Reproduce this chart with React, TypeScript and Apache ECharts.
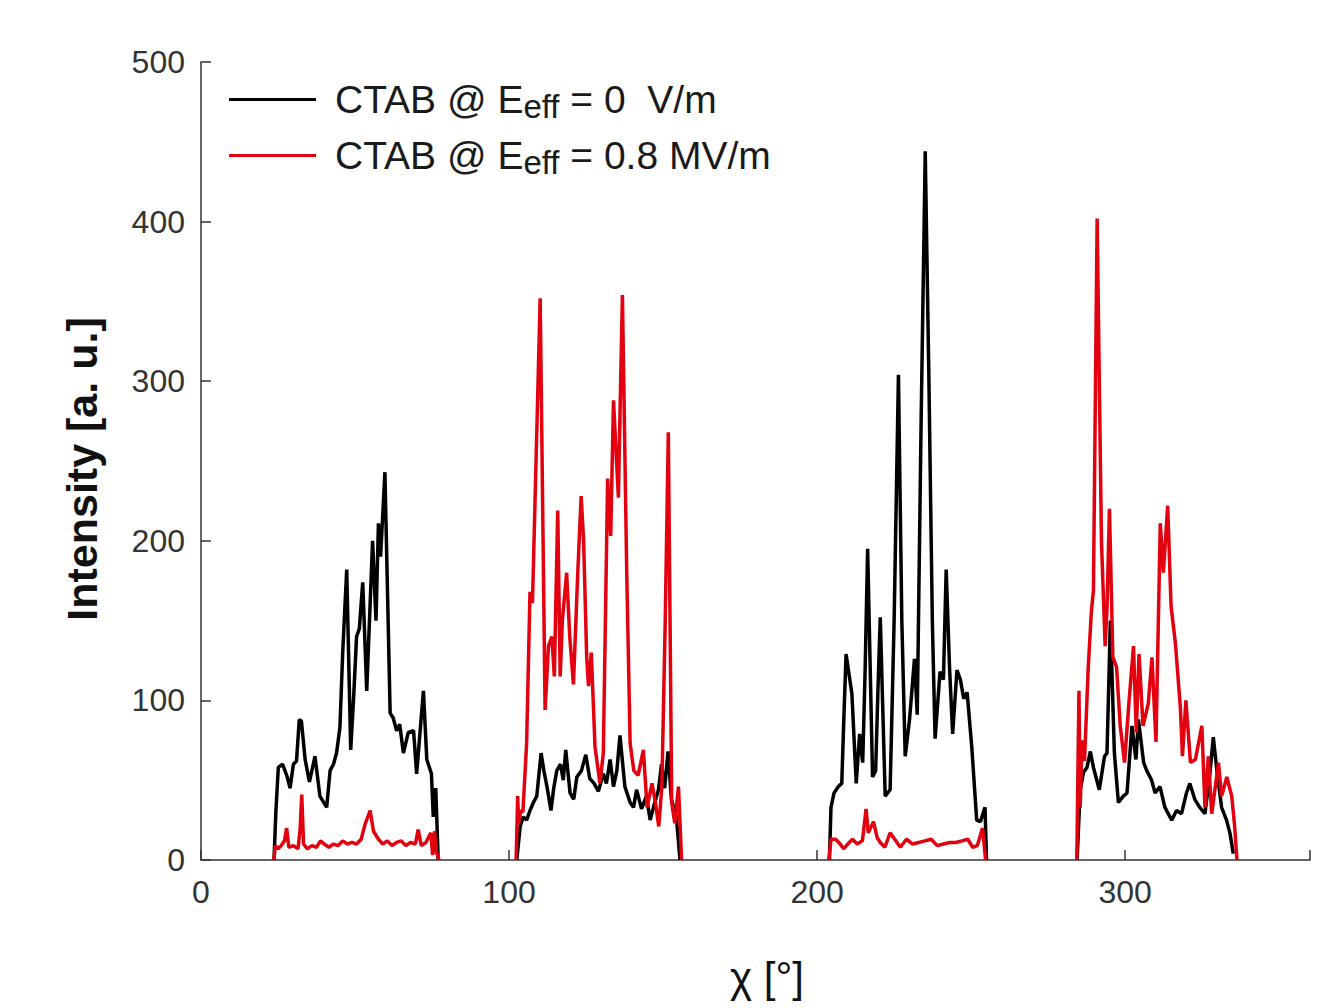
import React, { useEffect, useRef } from 'react';
import * as echarts from 'echarts';

const seriesNames = ['CTAB @ Eeff = 0  V/m', 'CTAB @ Eeff = 0.8 MV/m'];
const legendLabels = ['{m|CTAB @ E}{sub|eff}{m| = 0  V/m}', '{m|CTAB @ E}{sub|eff}{m| = 0.8 MV/m}'];
const xTickValues = [0, 100, 200, 300];
const yTickValues = [0, 100, 200, 300, 400, 500];
const xAxisName = 'χ [°]';
const yAxisName = 'Intensity [a. u.]';

// Black: E_eff = 0 V/m, four angular groups
const black1 = [[23.7,0],[24.3,30],[25.1,58],[26.5,60],[28,52],[28.9,45],[30,60],[31,62],[31.9,88],[32.6,87],[33.8,63],[35.2,49],[37,65],[38.6,40],[40.8,33],[41.9,56],[43,60],[44,67],[45.1,83],[46,130],[47.3,182],[48.6,69],[49.5,100],[50.5,140],[51.4,145],[52.5,174],[53.8,106],[55.7,200],[56.8,150],[57.6,211],[58.3,190],[59.7,243],[61.4,92],[62.4,89],[63.5,81],[64.5,85],[65.7,67],[67.3,80],[69,81],[70,54],[72.2,106],[73.3,63],[74.8,54],[75.4,27],[76.2,45],[77,0]];
const black2 = [[102.5,0],[103.6,21],[104.6,27],[105.7,25],[106.8,31],[107.9,36],[109,40],[110.4,67],[111.3,56],[112.4,45],[113.6,31],[114.5,45],[115.5,56],[116.7,60],[117.6,50],[118.4,69],[119.8,42],[121,38],[122,52],[123.5,56],[124.9,66],[126.2,51],[127.6,48],[129,43],[130.6,54],[131.6,48],[132.8,63],[133.9,46],[135,56],[136,78],[137.6,46],[139.3,36],[140.4,33],[141.4,44],[143,32],[144.6,40],[145.8,25],[147.3,36],[148.5,44],[149.5,60],[150.5,45],[151.6,68],[152.7,38],[154.3,27],[155.5,0]];
const black3 = [[204,0],[204.5,33],[205.5,42],[206.9,46],[208,48],[208.7,90],[209.4,129],[211.3,104],[212.7,48],[213.8,79],[214.8,61],[215.6,120],[216.4,195],[218,52],[219,56],[219.8,110],[220.5,152],[222.1,40],[223.7,44],[225,150],[226.4,304],[227.5,150],[228.6,65],[230,88],[231.6,126],[232.5,91],[233.8,280],[235.1,444],[236.3,300],[237.4,150],[238.3,76],[239.9,118],[241,113],[241.9,182],[243,120],[244,79],[245.4,119],[246.5,113],[247.6,101],[248.7,105],[250.2,71],[251.8,25],[253,24],[254.5,33],[255,0]];
const black4 = [[284.4,0],[285.4,44],[286.5,55],[287.6,58],[288.7,68],[289.7,58],[291.6,44],[293.3,65],[294.1,67],[295.2,150],[296.5,67],[297.8,36],[299.4,40],[300.6,42],[302.2,84],[303.5,63],[304.3,88],[306,61],[307,56],[308.6,50],[309.7,42],[311.3,46],[312.9,33],[315.1,25],[316.7,31],[318.3,29],[319.9,42],[321,48],[322.6,38],[324.2,33],[325.9,29],[327.5,54],[328.6,77],[329.9,54],[331.3,33],[332.9,25],[334,17],[335.1,4]];

// Red: E_eff = 0.8 MV/m
const red1 = [[23.6,0],[24.2,9],[25,7],[26,9],[27.1,12],[27.8,20],[28.5,8],[30,9],[31.5,7],[32.2,20],[32.7,41],[33.3,10],[34.5,7],[36,9],[37.5,8],[38.8,12],[40,10],[41.5,8],[43,10],[44.5,9],[46,12],[47.5,10],[49,11],[50.5,10],[52,13],[53.2,22],[54.9,31],[56,18],[57.6,13],[59,10],[60.5,12],[62,9],[63.5,11],[65,12],[66.5,9],[68,11],[69.6,10],[70.5,19],[71.5,9],[73,11],[74.6,17],[75.2,3],[75.8,18],[76.4,5],[77.3,0]];
const red2 = [[102.3,0],[102.8,40],[103.1,23],[103.8,31],[104.5,30],[105.7,73],[106.8,168],[107.6,161],[108.5,230],[110.1,352],[111.7,94],[112.8,134],[113.9,140],[114.7,115],[115.8,219],[116.6,115],[117.3,150],[118.7,180],[119.7,140],[120.9,110],[122.3,180],[123.4,228],[124.2,200],[125.2,127],[125.8,109],[126.7,130],[127.9,71],[129.5,48],[130.6,67],[132,239],[133,203],[133.9,288],[135.5,227],[136.1,288],[136.8,354],[138.2,180],[139.3,73],[140.5,56],[141.9,53],[143.6,69],[144.8,33],[146.4,48],[147.5,36],[148.6,21],[149.6,46],[150.7,150],[151.7,268],[152.8,36],[153.8,23],[155,46],[156,0]];
const red3 = [[203.8,0],[204.5,13],[206,13],[207.5,10],[208.6,7],[210,10],[211.5,13],[213,10],[214.7,12],[215.9,32],[216.6,17],[218.3,24],[219.5,14],[220.5,11],[222,8],[223.7,17],[225.2,13],[227,8],[229,13],[231,10],[233,11],[235,12],[237,13],[239,9],[241,10],[243,11],[245,11],[247,12],[248.9,13],[250.5,8],[252,9],[253.7,20],[254.7,0]];
const red4 = [[284.3,0],[285,106],[285.4,33],[286,75],[286.8,62],[288,120],[289,155],[289.7,169],[290.9,402],[292.3,200],[293.5,134],[294.1,157],[294.9,220],[296,127],[297.2,121],[298.4,84],[299.8,61],[301.2,98],[302.7,134],[303.6,80],[304.5,129],[305.8,84],[307.5,98],[308.7,127],[310,74],[311.4,211],[312.4,180],[313.8,222],[314.9,159],[316.3,136],[317.9,96],[318.6,65],[319.7,100],[321.2,61],[322.8,63],[324.9,84],[325.9,33],[327,65],[328.1,29],[330.3,61],[331.3,40],[333,52],[334.6,40],[335.5,22],[336.3,0]];

function joinGroups(groups: number[][][]) {
  const out: (number | null)[][] = [];
  groups.forEach((g, i) => {
    if (i > 0) {
      const prev = groups[i - 1];
      out.push([(prev[prev.length - 1][0] + g[0][0]) / 2, null]);
    }
    g.forEach((p) => out.push(p));
  });
  return out;
}

const FONT = '"Liberation Sans", Arial, Helvetica, sans-serif';

export default function App() {
  const ref = useRef<HTMLDivElement>(null);
  useEffect(() => {
    if (!ref.current) return;
    const chart = echarts.init(ref.current, null, { renderer: 'svg' });
    chart.setOption({
      animation: false,
      backgroundColor: '#ffffff',
      grid: { left: 201, right: 24, top: 62, bottom: 148, containLabel: false },
      legend: {
        orient: 'vertical',
        left: 229,
        top: 80,
        padding: 0,
        icon: 'rect',
        itemWidth: 87,
        itemHeight: 3,
        itemGap: 13,
        data: seriesNames,
        formatter: (name: string) => legendLabels[seriesNames.indexOf(name)],
        textStyle: {
          fontFamily: FONT,
          color: '#1a1a1a',
          padding: [0, 0, 0, 14],
          rich: {
            m: { fontSize: 39, fontFamily: FONT, color: '#1a1a1a', verticalAlign: 'top', lineHeight: 39 },
            sub: { fontSize: 33, fontFamily: FONT, color: '#1a1a1a', verticalAlign: 'top', padding: [10, 0, 0, 0], lineHeight: 33 },
          },
        },
      },
      xAxis: {
        type: 'value',
        min: 0,
        max: 360,
        interval: 100,
        splitLine: { show: false },
        axisLine: { onZero: false, lineStyle: { color: '#333', width: 1.5 } },
        axisTick: { inside: true, length: 10, lineStyle: { color: '#333', width: 1.5 } },
        axisLabel: {
          margin: 16,
          fontSize: 32,
          fontFamily: FONT,
          color: '#333',
          formatter: (v: number) => (xTickValues.includes(v) ? String(v) : ''),
        },
      },
      yAxis: {
        type: 'value',
        min: 0,
        max: 500,
        interval: 100,
        splitLine: { show: false },
        axisLine: { show: true, lineStyle: { color: '#333', width: 1.5 } },
        axisTick: { show: true, inside: true, length: 10, lineStyle: { color: '#333', width: 1.5 } },
        axisLabel: {
          margin: 16,
          fontSize: 32,
          fontFamily: FONT,
          color: '#333',
          formatter: (v: number) => (yTickValues.includes(v) ? String(v) : ''),
        },
      },
      graphic: [
        {
          type: 'text',
          x: 82,
          y: 469,
          rotation: Math.PI / 2,
          style: {
            text: yAxisName,
            fontSize: 43,
            fontWeight: 'bold',
            fontFamily: FONT,
            fill: '#111',
            textAlign: 'center',
            textVerticalAlign: 'middle',
          },
        },
        {
          type: 'text',
          x: 767,
          y: 977,
          style: {
            text: xAxisName,
            fontSize: 42,
            fontFamily: FONT,
            fill: '#111',
            textAlign: 'center',
            textVerticalAlign: 'middle',
          },
        },
      ],
      series: [
        {
          name: seriesNames[0],
          type: 'line',
          symbol: 'none',
          showSymbol: false,
          connectNulls: false,
          color: '#000000',
          lineStyle: { color: '#000000', width: 3.5 },
          data: joinGroups([black1, black2, black3, black4]),
          z: 2,
        },
        {
          name: seriesNames[1],
          type: 'line',
          symbol: 'none',
          showSymbol: false,
          connectNulls: false,
          color: '#e3000f',
          lineStyle: { color: '#e3000f', width: 3.5 },
          data: joinGroups([red1, red2, red3, red4]),
          z: 3,
        },
      ],
    });
    return () => chart.dispose();
  }, []);
  return <div ref={ref} style={{ position: 'absolute', left: 0, top: 0, width: 1334, height: 1008 }} />;
}
